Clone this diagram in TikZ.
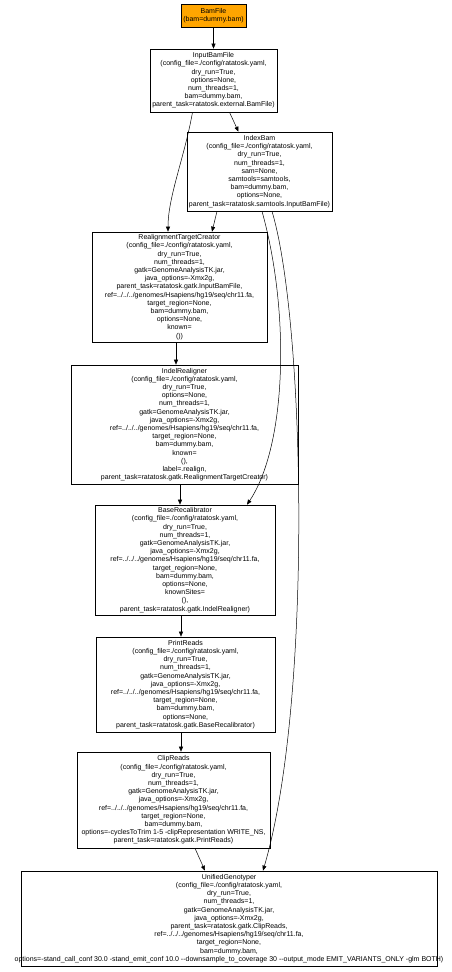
\documentclass[tikz,border=0pt]{standalone}
\usepackage{fontspec}
\setmainfont{Liberation Sans}
\usetikzlibrary{arrows.meta}
\definecolor{taskorange}{HTML}{FFA500}
\newcommand{\taskfont}{\fontsize{7}{8.2}\selectfont}
\begin{document}
\begin{tikzpicture}[x=1pt,y=-1pt,
  task/.style={draw,line width=0.6pt,align=center,inner sep=1pt,font=\taskfont},
  edge/.style={-{Triangle[length=5pt,width=4pt]},line width=0.5pt}]
\useasboundingbox (0,0) rectangle (451,972);

\node[task,fill=taskorange,minimum width=65pt,minimum height=23pt] (bamfile) at (213.5,15.5)
{BamFile\\(bam=dummy.bam)};
\node[task,minimum width=127pt,minimum height=63pt] (inputbamfile) at (213.5,80.5)
{InputBamFile\\(config\_file=./config/ratatosk.yaml,\\dry\_run=True,\\options=None,\\num\_threads=1,\\bam=dummy.bam,\\parent\_task=ratatosk.external.BamFile)};
\node[task,minimum width=145pt,minimum height=79pt] (indexbam) at (259.5,171.5)
{IndexBam\\(config\_file=./config/ratatosk.yaml,\\dry\_run=True,\\num\_threads=1,\\sam=None,\\samtools=samtools,\\bam=dummy.bam,\\options=None,\\parent\_task=ratatosk.samtools.InputBamFile)};
\node[task,minimum width=175pt,minimum height=110pt] (rtc) at (179.5,287)
{RealignmentTargetCreator\\(config\_file=./config/ratatosk.yaml,\\dry\_run=True,\\num\_threads=1,\\gatk=GenomeAnalysisTK.jar,\\java\_options=-Xmx2g,\\parent\_task=ratatosk.gatk.InputBamFile,\\ref=../../../genomes/Hsapiens/hg19/seq/chr11.fa,\\target\_region=None,\\bam=dummy.bam,\\options=None,\\known=\\())};
\node[task,minimum width=227pt,minimum height=119pt] (indelrealigner) at (184.5,424.5)
{IndelRealigner\\(config\_file=./config/ratatosk.yaml,\\dry\_run=True,\\options=None,\\num\_threads=1,\\gatk=GenomeAnalysisTK.jar,\\java\_options=-Xmx2g,\\ref=../../../genomes/Hsapiens/hg19/seq/chr11.fa,\\target\_region=None,\\bam=dummy.bam,\\known=\\(),\\label=.realign,\\parent\_task=ratatosk.gatk.RealignmentTargetCreator)};
\node[task,minimum width=180pt,minimum height=110pt] (baserecal) at (185,560)
{BaseRecalibrator\\(config\_file=./config/ratatosk.yaml,\\dry\_run=True,\\num\_threads=1,\\gatk=GenomeAnalysisTK.jar,\\java\_options=-Xmx2g,\\ref=../../../genomes/Hsapiens/hg19/seq/chr11.fa,\\target\_region=None,\\bam=dummy.bam,\\options=None,\\knownSites=\\(),\\parent\_task=ratatosk.gatk.IndelRealigner)};
\node[task,minimum width=179pt,minimum height=95pt] (printreads) at (185.5,684.5)
{PrintReads\\(config\_file=./config/ratatosk.yaml,\\dry\_run=True,\\num\_threads=1,\\gatk=GenomeAnalysisTK.jar,\\java\_options=-Xmx2g,\\ref=../../../genomes/Hsapiens/hg19/seq/chr11.fa,\\target\_region=None,\\bam=dummy.bam,\\options=None,\\parent\_task=ratatosk.gatk.BaseRecalibrator)};
\node[task,minimum width=193pt,minimum height=96pt] (clipreads) at (173.5,800)
{ClipReads\\(config\_file=./config/ratatosk.yaml,\\dry\_run=True,\\num\_threads=1,\\gatk=GenomeAnalysisTK.jar,\\java\_options=-Xmx2g,\\ref=../../../genomes/Hsapiens/hg19/seq/chr11.fa,\\target\_region=None,\\bam=dummy.bam,\\options=-cyclesToTrim 1-5 -clipRepresentation WRITE\_NS,\\parent\_task=ratatosk.gatk.PrintReads)};
\node[task,minimum width=416pt,minimum height=95pt] (ug) at (229,918.5)
{UnifiedGenotyper\\(config\_file=./config/ratatosk.yaml,\\dry\_run=True,\\num\_threads=1,\\gatk=GenomeAnalysisTK.jar,\\java\_options=-Xmx2g,\\parent\_task=ratatosk.gatk.ClipReads,\\ref=../../../genomes/Hsapiens/hg19/seq/chr11.fa,\\target\_region=None,\\bam=dummy.bam,\\\makebox[0pt]{options=-stand\_call\_conf 30.0 -stand\_emit\_conf 10.0 -{}-downsample\_to\_coverage 30 -{}-output\_mode EMIT\_VARIANTS\_ONLY -glm BOTH)}};

% dependencies
\draw[edge] (bamfile) -- (inputbamfile);
\draw[edge] ([xshift=16pt]inputbamfile.south) -- ([xshift=-21pt]indexbam.north);
\draw[edge] ([xshift=-21pt]inputbamfile.south) .. controls +(-8,45) and +(0,-35) .. ([xshift=-11.5pt]rtc.north);
\draw[edge] ([xshift=-42.5pt]indexbam.south) -- ([xshift=32.5pt]rtc.north);
\draw[edge] ([xshift=2.5pt]indexbam.south) .. controls +(28,100) and +(40,-60) .. ([xshift=62pt]baserecal.north);
\draw[edge] ([xshift=12.5pt]indexbam.south) .. controls +(33,110) and +(50,-170) .. ([xshift=34pt]ug.north);
\draw[edge] ([xshift=-3.5pt]rtc.south) -- ([xshift=-8.5pt]indelrealigner.north);
\draw[edge] ([xshift=-4.5pt]indelrealigner.south) -- ([xshift=-5pt]baserecal.north);
\draw[edge] ([xshift=-4pt]baserecal.south) -- ([xshift=-4.5pt]printreads.north);
\draw[edge] ([xshift=-4.5pt]printreads.south) -- ([xshift=7.5pt]clipreads.north);
\draw[edge] ([xshift=21.5pt]clipreads.south) -- ([xshift=-24pt]ug.north);

\end{tikzpicture}
\end{document}
